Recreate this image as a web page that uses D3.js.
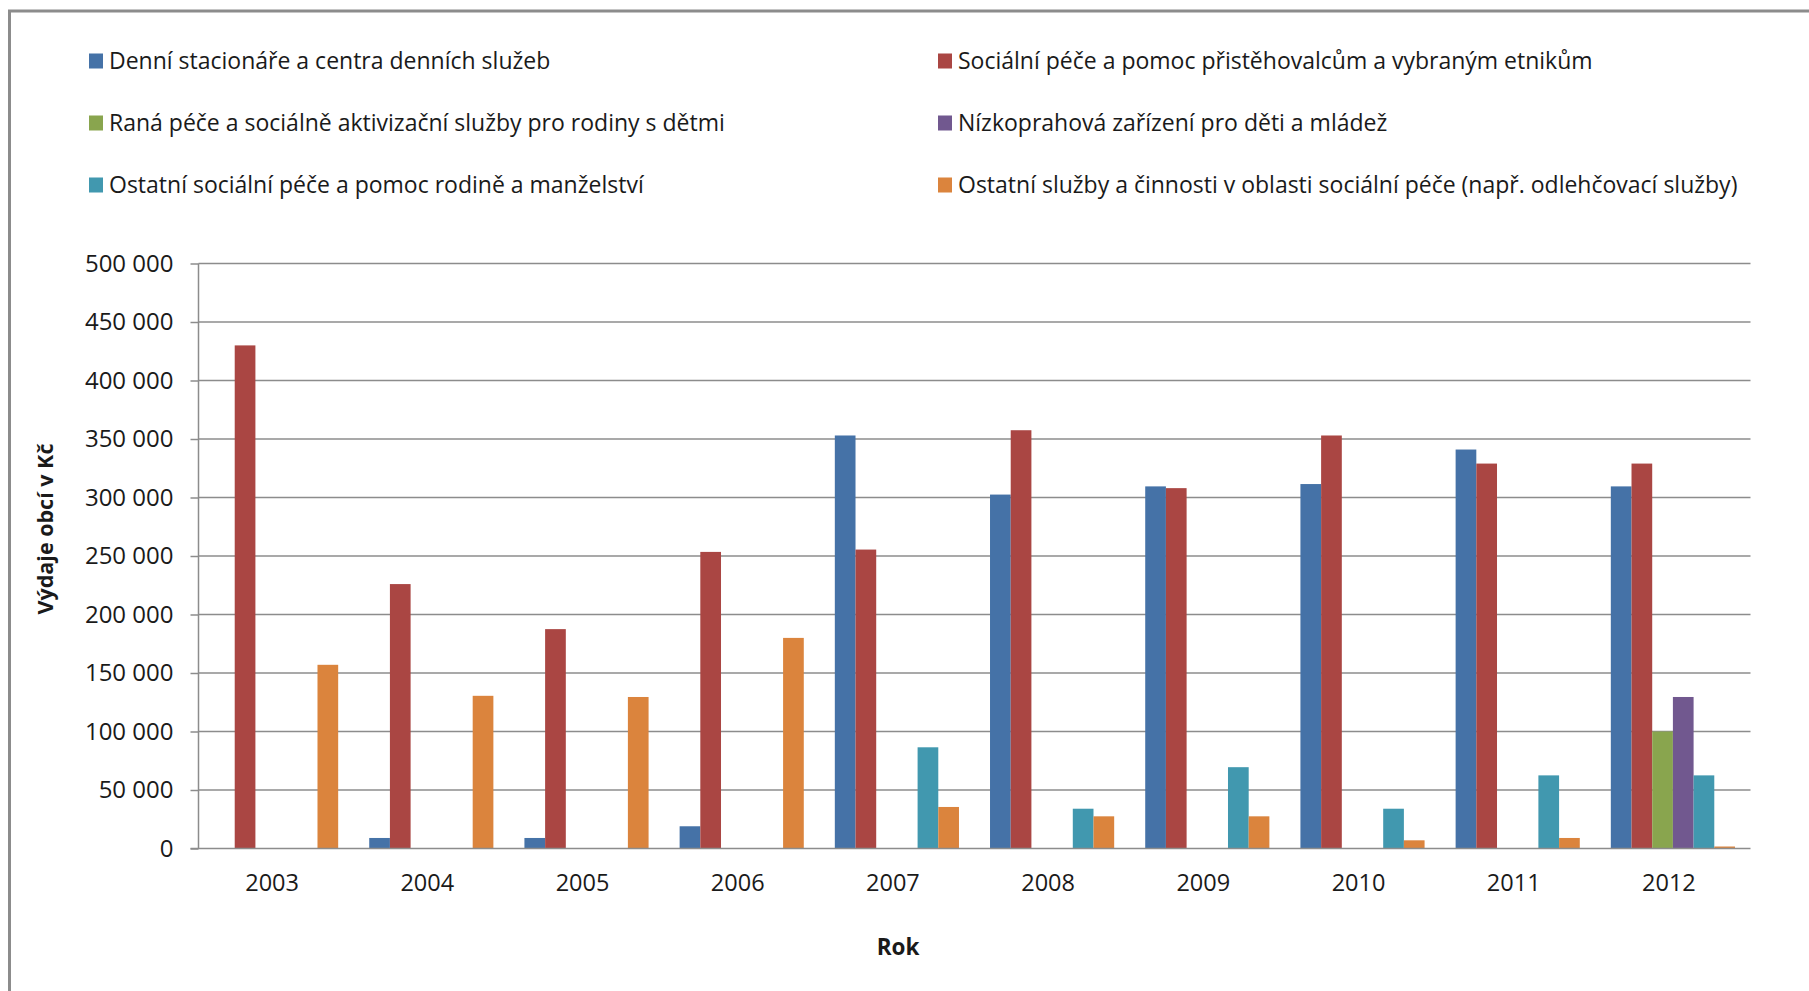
<!DOCTYPE html>
<html>
<head>
<meta charset="utf-8">
<script src="https://cdn.jsdelivr.net/npm/d3@7"></script>
<style>
  body { margin: 0; background: #fff; }
  text { font-family: "Open Sans", sans-serif; fill: #1a1a1a; }
</style>
</head>
<body>
<div id="chart"></div>
<script>
// years on the category axis
var years = ["2003", "2004", "2005", "2006", "2007", "2008", "2009", "2010", "2011", "2012"];

// series names (legend order) and colours
var seriesNames = [
  "Denní stacionáře a centra denních služeb",
  "Sociální péče a pomoc přistěhovalcům a vybraným etnikům",
  "Raná péče a sociálně aktivizační služby pro rodiny s dětmi",
  "Nízkoprahová zařízení pro děti a mládež",
  "Ostatní sociální péče a pomoc rodině a manželství",
  "Ostatní služby a činnosti v oblasti sociální péče (např. odlehčovací služby)"
];
var seriesColors = ["#4572A7", "#AA4643", "#89A54E", "#71588F", "#4198AF", "#DB843D"];

// values (Kč)
var denniStacionare = [0, 9000, 9000, 19000, 353000, 302500, 309500, 311500, 341000, 309500];
var socialniPece    = [430000, 226000, 187500, 253500, 255500, 357500, 308000, 353000, 329000, 329000];
var ranaPece        = [0, 0, 0, 0, 0, 0, 0, 0, 0, 100000];
var nizkoprahova    = [0, 0, 0, 0, 0, 0, 0, 0, 0, 129500];
var ostatniRodina   = [0, 0, 0, 0, 86500, 34000, 69500, 34000, 62500, 62500];
var ostatniSluzby   = [157000, 130500, 129500, 180000, 35500, 27500, 27500, 7000, 9000, 1700];

var yTicks = [0, 50000, 100000, 150000, 200000, 250000, 300000, 350000, 400000, 450000, 500000];

var allSeries = [denniStacionare, socialniPece, ranaPece, nizkoprahova, ostatniRodina, ostatniSluzby];

var W = 1809, H = 991;
var plot = {left: 198.5, right: 1750.5, top: 263.5, bottom: 848.5};

var svg = d3.select("#chart")
  .append("svg")
    .attr("width", W)
    .attr("height", H);

// outer chart border (runs off the right and bottom edge)
svg.append("rect")
  .attr("x", 9.5).attr("y", 11)
  .attr("width", 1900).attr("height", 1100)
  .style("fill", "none")
  .style("stroke", "#8c8c8c")
  .style("stroke-width", 3);

// scales
var x0 = d3.scaleBand()
  .domain(years)
  .range([plot.left, plot.right]);

var x1 = d3.scaleBand()
  .domain(d3.range(seriesNames.length))
  .range([0, x0.bandwidth()])
  .paddingInner(0)
  .paddingOuter(0.75);

var y = d3.scaleLinear()
  .domain([0, 500000])
  .range([plot.bottom, plot.top]);

var fmt = d3.formatLocale({decimal: ",", thousands: " ", grouping: [3], currency: ["", " Kč"]}).format(",d");

// gridlines
svg.append("g")
  .selectAll("line")
  .data(yTicks.slice(1))
  .enter()
  .append("line")
    .attr("x1", plot.left).attr("x2", plot.right)
    .attr("y1", function(d) { return y(d); })
    .attr("y2", function(d) { return y(d); })
    .style("stroke", "#8c8c8c")
    .style("stroke-width", 1.5);

// y axis
var yAxis = svg.append("g")
  .attr("transform", "translate(" + plot.left + ",0)")
  .call(d3.axisLeft(y).tickValues(yTicks).tickFormat(fmt).tickSize(8).tickPadding(17));
yAxis.selectAll("line, path").style("stroke", "#8c8c8c").style("stroke-width", 1.5);
yAxis.select(".domain").attr("d", "M0," + plot.bottom + "V" + plot.top);
yAxis.selectAll("text").style("font-size", "24px").style("font-family", "Open Sans, sans-serif").attr("fill", "#1a1a1a");

// bars
var groups = svg.append("g")
  .selectAll("g")
  .data(years)
  .enter()
  .append("g")
    .attr("transform", function(d) { return "translate(" + x0(d) + ",0)"; });

groups.selectAll("rect")
  .data(function(d, i) {
    return allSeries.map(function(s, k) { return {k: k, value: s[i]}; });
  })
  .enter()
  .append("rect")
    .attr("x", function(d) { return x1(d.k); })
    .attr("y", function(d) { return y(d.value); })
    .attr("width", x1.bandwidth())
    .attr("height", function(d) { return y(0) - y(d.value); })
    .style("fill", function(d) { return seriesColors[d.k]; });

// x axis
var xAxis = svg.append("g")
  .attr("transform", "translate(0," + plot.bottom + ")")
  .call(d3.axisBottom(x0).tickSize(0).tickPadding(26));
xAxis.select(".domain").attr("d", "M" + (plot.left - 8) + ",0H" + plot.right)
  .style("stroke", "#8c8c8c").style("stroke-width", 1.5);
xAxis.selectAll("text")
  .attr("dx", -4)
  .style("font-size", "23.5px").style("font-family", "Open Sans, sans-serif").attr("fill", "#1a1a1a");

// axis titles
svg.append("text")
  .attr("x", 898).attr("y", 947)
  .attr("dy", "0.35em")
  .attr("text-anchor", "middle")
  .style("font-size", "22.5px")
  .style("font-weight", "bold")
  .text("Rok");

svg.append("text")
  .attr("transform", "translate(45,529) rotate(-90)")
  .attr("dy", "0.35em")
  .attr("text-anchor", "middle")
  .style("font-size", "21.5px")
  .style("font-weight", "bold")
  .text("Výdaje obcí v Kč");

// legend, two columns
var legendCols = [89, 938];
var legendRows = [61, 123, 185];

var legend = svg.append("g")
  .selectAll("g")
  .data(seriesNames)
  .enter()
  .append("g")
    .attr("transform", function(d, i) {
      return "translate(" + legendCols[i % 2] + "," + legendRows[Math.floor(i / 2)] + ")";
    });

legend.append("rect")
  .attr("x", 0).attr("y", -7.5)
  .attr("width", 14).attr("height", 15)
  .style("fill", function(d, i) { return seriesColors[i]; });

legend.append("text")
  .attr("x", 20)
  .attr("dy", "0.35em")
  .style("font-size", "23px")
  .text(function(d) { return d; });
</script>
</body>
</html>
